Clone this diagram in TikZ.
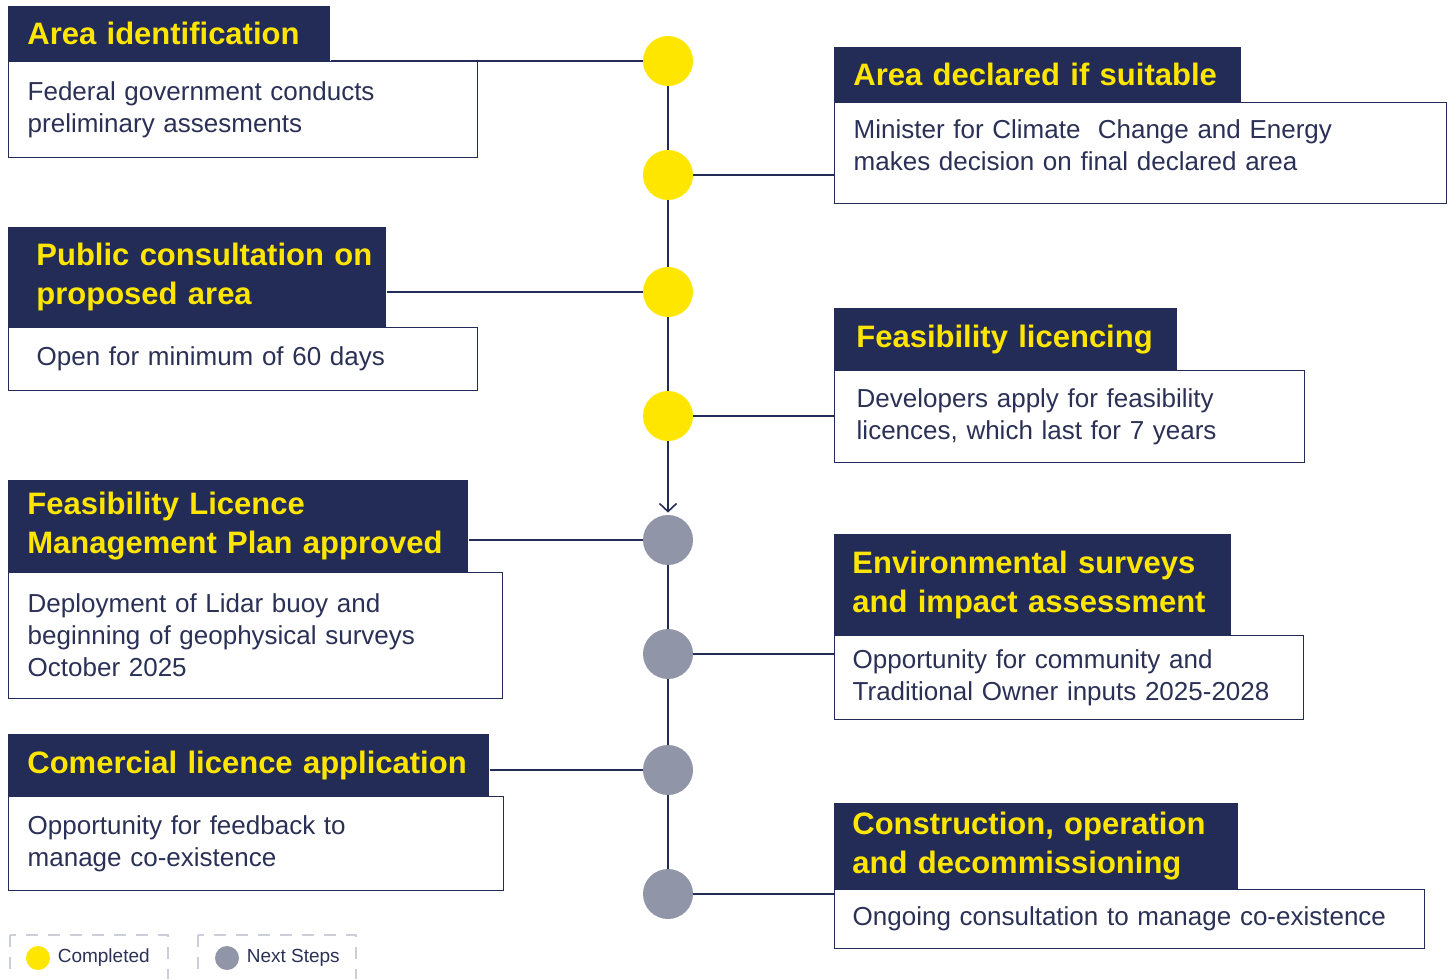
\documentclass[tikz,border=0pt]{standalone}
\usepackage{fontspec}
\setmainfont{Liberation Sans}
\usetikzlibrary{arrows.meta,positioning}

\definecolor{navy}{HTML}{232C56}
\definecolor{sunyellow}{HTML}{FFE600}
\definecolor{stepgray}{HTML}{9195A8}
\definecolor{dashgray}{HTML}{CDCFD8}
\definecolor{inkblue}{HTML}{2B3156}

\tikzset{
  titlebox/.style={fill=navy, text=sunyellow, font=\fontsize{15.5}{19.5}\selectfont\bfseries,
    anchor=north west, align=left, inner xsep=9.5pt, inner ysep=0pt},
  bodybox/.style={draw=navy, line width=0.7pt, fill=white, text=inkblue,
    font=\fontsize{13}{16}\selectfont, anchor=north west, align=left, inner xsep=9.5pt, inner ysep=0pt},
  done/.style={circle, fill=sunyellow, minimum size=25pt, inner sep=0pt},
  todo/.style={circle, fill=stepgray, minimum size=25pt, inner sep=0pt},
  link/.style={draw=navy, line width=0.8pt},
  legdash/.style={draw=dashgray, line width=0.8pt, dash pattern=on 6pt off 5pt},
  legtext/.style={text=inkblue, font=\fontsize{9.5}{11}\selectfont, inner sep=0pt},
}

\begin{document}
\begin{tikzpicture}[x=0.5pt, y=-0.5pt]
  \useasboundingbox (0,0) rectangle (1451,979);

  % timeline dots
  \node[done] (c1) at (668,61) {};
  \node[done] (c2) at (668,175) {};
  \node[done] (c3) at (668,292) {};
  \node[done] (c4) at (668,416) {};
  \node[todo] (c5) at (668,540) {};
  \node[todo] (c6) at (668,654) {};
  \node[todo] (c7) at (668,770) {};
  \node[todo] (c8) at (668,894) {};

  \draw[link] (c1.south) -- (c2.north);
  \draw[link] (c2.south) -- (c3.north);
  \draw[link] (c3.south) -- (c4.north);
  \draw[link, -{Straight Barb[length=4pt,width=8.5pt]}] (c4.south) -- ([yshift=1pt]c5.north);
  \draw[link] (c5.south) -- (c6.north);
  \draw[link] (c6.south) -- (c7.north);
  \draw[link] (c7.south) -- (c8.north);

  % left side
  \node[bodybox, text width=215.5pt, minimum height=48pt] (b1) at (8,61)
    {Federal government conducts\\preliminary assesments};
  \node[titlebox, text width=142pt, minimum height=27.5pt] (t1) at (8,6) {Area identification};

  \node[bodybox, inner xsep=14pt, text width=206.5pt, minimum height=31.5pt] (b2) at (8,327)
    {Open for minimum of 60 days};
  \node[titlebox, inner xsep=14pt, text width=161pt, minimum height=50pt] (t2) at (8,227)
    {\mbox{Public consultation on}\\proposed area};

  \node[bodybox, text width=228pt, minimum height=63pt] (b3) at (8,572)
    {Deployment of Lidar buoy and\\beginning of geophysical surveys\\October 2025};
  \node[titlebox, text width=211pt, minimum height=46pt] (t3) at (8,480)
    {Feasibility Licence\\Management Plan approved};

  \node[bodybox, text width=228.5pt, minimum height=47pt] (b4) at (8,796)
    {Opportunity for feedback to\\manage co-existence};
  \node[titlebox, text width=221.5pt, minimum height=31pt] (t4) at (8,734)
    {Comercial licence application};

  % right side
  \node[bodybox, text width=287pt, minimum height=50.5pt, text depth=24.5pt] (b5) at (834,102)
    {Minister for Climate\ \ Change and Energy\\makes decision on final declared area};
  \node[titlebox, text width=184.5pt, minimum height=27.5pt] (t5) at (834,47)
    {Area declared if suitable};

  \node[bodybox, inner xsep=11pt, text width=213pt, minimum height=46pt] (b6) at (834,370)
    {Developers apply for feasibility\\licences, which last for 7 years};
  \node[titlebox, inner xsep=11pt, text width=149.5pt, minimum height=31pt] (t6) at (834,308)
    {\mbox{Feasibility licencing}};

  \node[bodybox, inner xsep=9pt, text width=216.5pt, minimum height=42pt] (b7) at (834,635)
    {Opportunity for community and\\Traditional Owner inputs 2025-2028};
  \node[titlebox, inner xsep=9pt, text width=180.5pt, minimum height=50.5pt] (t7) at (834,534)
    {Environmental surveys\\and impact assessment};

  \node[bodybox, inner xsep=9pt, text width=277pt, minimum height=29.5pt] (b8) at (834,889)
    {Ongoing consultation to manage co-existence};
  \node[titlebox, inner xsep=9pt, text width=184pt, minimum height=43pt] (t8) at (834,803)
    {Construction, operation\\and decommissioning};

  % connectors
  \draw[link] (t1.east |- c1.west) -- (c1.west);
  \draw[link] (t2.east |- c3.west) -- (c3.west);
  \draw[link] (t3.east |- c5.west) -- (c5.west);
  \draw[link] (t4.east |- c7.west) -- (c7.west);
  \draw[link] (c2.east) -- (c2.east -| b5.west);
  \draw[link] (c4.east) -- (c4.east -| b6.west);
  \draw[link] (c6.east) -- (c6.east -| b7.west);
  \draw[link] (c8.east) -- (c8.east -| b8.west);

  % legend
  \draw[legdash] (10,935) rectangle (168,1000);
  \draw[legdash] (198,935) rectangle (356,1000);
  \node[done, minimum size=12pt] (k1) at (38,958) {};
  \node[legtext, right=3.5pt of k1] (k1txt) {Completed};
  \node[todo, minimum size=12pt] (k2) at (227,958) {};
  \node[legtext, right=3.5pt of k2] (k2txt) {Next Steps};
\end{tikzpicture}
\end{document}
